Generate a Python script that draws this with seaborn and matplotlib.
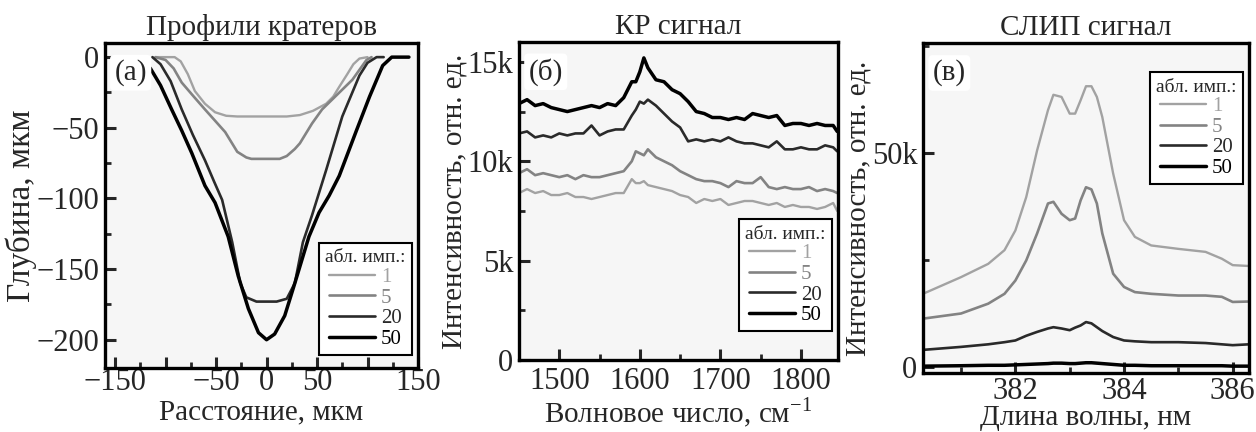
import numpy as np
import pandas as pd
import matplotlib
matplotlib.use("Agg")
import matplotlib.pyplot as plt
import seaborn as sns
from matplotlib.lines import Line2D

sns.set_theme(style="ticks")
plt.rcParams['font.family'] = ['Liberation Serif', 'DejaVu Serif']
plt.rcParams['mathtext.fontset'] = 'custom'
plt.rcParams['mathtext.rm'] = 'Liberation Serif'

pulses = ["1", "5", "20", "50"]
colors = ["#a2a2a2", "#838383", "#2a2a2a", "#000000"]
widths = [1.7, 1.9, 1.9, 2.5]

# ---------- panel (a): crater profiles ----------
a_x1 = [-110, -91, -85, -78, -71, -61, -51, -40, -29, 0, 20, 33, 46, 59, 66, 72, 80, 86, 92, 100]
a_y1 = [0, 0, -3, -12, -24, -33, -39, -41.5, -42, -42, -42, -41, -38, -33, -28, -21, -12, -5, -1, 0]
a_x5 = [-110, -100, -92, -84, -72, -61, -51, -41, -35, -29, -20, -15, 0, 13, 20, 28, 33, 45, 55, 65, 75, 85, 92, 99, 104]
a_y5 = [0, -2, -8, -18, -28, -37, -45, -53, -60, -67, -71, -72, -72, -72, -70, -65, -61, -47, -37, -30, -23, -16, -9, -2, 0]
a_x20 = [-113, -105, -95, -84, -73, -61, -52, -44, -34, -26, -20, -10, 0, 10, 20, 28, 36, 45, 59, 75, 92, 100, 109, 116]
a_y20 = [0, -5, -17, -37, -55, -73, -88, -101, -131, -160, -170, -173, -173, -173, -171, -160, -131, -112, -80, -42, -13, -4, 0, 0]
a_x50 = [-138, -127, -115, -105, -94, -84, -74, -61, -51, -38, -28, -18, -8, 0, 8, 18, 28, 42, 52, 62, 72, 89, 102, 115, 124, 141]
a_y50 = [0, 0, -8, -20, -37, -52, -68, -91, -103, -127, -155, -178, -195, -200, -196, -183, -160, -127, -110, -98, -84, -52, -28, -6, 0, 0]

a_xticks = [-150, -100, -50, 0, 50, 100, 150]
a_xticklabels = ["\u2212150", "", "\u221250", "0", "50", "", "150"]
a_yticks = [0, -50, -100, -150, -200]
a_yticklabels = ["0", "\u221250", "\u2212100", "\u2212150", "\u2212200"]

# ---------- panel (b): Raman ----------
b_x = [1450, 1460, 1470, 1480, 1490, 1500, 1510, 1520, 1530, 1540, 1550, 1560, 1570, 1580, 1590,
       1595, 1600, 1605, 1610, 1620, 1630, 1640, 1650, 1660, 1670, 1680, 1690, 1700, 1710, 1720,
       1730, 1740, 1750, 1760, 1770, 1780, 1790, 1800, 1810, 1820, 1830, 1840, 1845]
b_y50 = [12.9, 13.1, 12.8, 12.9, 12.7, 12.6, 12.5, 12.6, 12.7, 12.8, 12.7, 12.9, 12.8, 13.2, 14.0,
         14.0, 14.5, 15.2, 14.7, 14.1, 14.0, 13.6, 13.4, 13.0, 12.5, 12.4, 12.2, 12.2, 12.1, 12.2,
         12.1, 12.4, 12.3, 12.2, 12.3, 11.8, 11.9, 11.9, 11.8, 11.9, 11.8, 11.8, 11.5]
b_y20 = [11.4, 11.5, 11.2, 11.3, 11.2, 11.4, 11.3, 11.4, 11.4, 11.8, 11.3, 11.5, 11.6, 11.6, 12.3,
         12.6, 13.0, 12.9, 13.1, 12.8, 12.4, 12.0, 11.7, 11.0, 11.1, 11.0, 11.1, 11.0, 11.2, 11.0,
         10.9, 10.9, 10.8, 10.7, 11.0, 10.6, 10.6, 10.7, 10.6, 10.6, 10.8, 10.7, 10.5]
b_y5 = [9.4, 9.6, 9.3, 9.4, 9.3, 9.2, 9.3, 9.1, 9.3, 9.2, 9.2, 9.3, 9.4, 9.5, 10.0,
        10.5, 10.4, 10.3, 10.6, 10.2, 10.0, 9.8, 9.5, 9.3, 9.1, 9.0, 9.0, 8.9, 8.7, 9.0,
        8.9, 8.9, 9.2, 8.7, 8.6, 8.7, 8.6, 8.6, 8.7, 8.5, 8.6, 8.5, 8.4]
b_y1 = [8.4, 8.6, 8.4, 8.5, 8.3, 8.3, 8.4, 8.2, 8.2, 8.1, 8.2, 8.3, 8.4, 8.4, 9.1,
        8.9, 8.9, 9.0, 8.8, 8.7, 8.6, 8.5, 8.3, 8.2, 7.9, 8.1, 8.0, 8.1, 7.8, 7.9,
        8.0, 8.0, 7.9, 7.8, 7.9, 7.7, 7.8, 7.7, 7.7, 7.6, 7.7, 7.9, 7.5]
b_xticks = [1500, 1600, 1700, 1800]
b_yticks = [0, 5000, 10000, 15000]
b_yticklabels = ["0", "5k", "10k", "15k"]

# ---------- panel (c): LIBS ----------
c_x = [380.3, 381.0, 381.5, 381.8, 382.0, 382.2, 382.4, 382.6, 382.7, 382.85, 383.0, 383.1, 383.2,
       383.3, 383.4, 383.5, 383.6, 383.8, 384.0, 384.2, 384.5, 385.0, 385.5, 385.8, 386.0, 386.3]
c_y1 = [17.1, 21.0, 24.1, 27.3, 31.9, 39.7, 50.6, 60.0, 63.6, 63.1, 59.2, 59.2, 62.3,
        65.6, 65.6, 63.1, 58.4, 45.2, 34.3, 30.4, 28.4, 27.6, 26.9, 25.3, 23.8, 23.6]
c_y5 = [11.3, 12.5, 14.8, 17.1, 20.2, 24.9, 31.2, 38.2, 38.6, 35.8, 34.3, 34.7, 38.9,
        42.0, 41.5, 38.2, 31.2, 21.8, 18.7, 17.5, 17.1, 16.7, 16.7, 16.4, 15.2, 15.3]
c_y20 = [4.0, 4.7, 5.3, 5.8, 6.2, 7.3, 8.2, 9.0, 9.3, 9.0, 8.6, 9.2, 9.7,
         10.5, 10.2, 9.3, 8.4, 7.0, 6.2, 6.0, 5.8, 5.8, 5.6, 5.3, 5.1, 5.3]
c_y50 = [0.2, 0.3, 0.4, 0.4, 0.5, 0.6, 0.7, 0.8, 0.9, 0.9, 0.8, 0.8, 0.9,
         1.0, 1.0, 0.9, 0.8, 0.6, 0.4, 0.4, 0.3, 0.3, 0.3, 0.3, 0.2, 0.2]
c_xticks = [382, 384, 386]
c_yticks = [0, 50000]
c_yticklabels = ["0", "50k"]


def long_df(xs, ys, scale=1.0):
    frames = []
    for p, x, y in zip(pulses, xs, ys):
        frames.append(pd.DataFrame({"x": x, "y": np.asarray(y, float) * scale, "p": p}))
    return pd.concat(frames, ignore_index=True)


dfa = long_df([a_x1, a_x5, a_x20, a_x50], [a_y1, a_y5, a_y20, a_y50])
dfb = long_df([b_x] * 4, [b_y1, b_y5, b_y20, b_y50], 1000)
dfc = long_df([c_x] * 4, [c_y1, c_y5, c_y20, c_y50], 1000)

fig = plt.figure(figsize=(12.56, 4.32), dpi=100)
fig.patch.set_facecolor("white")
axa = fig.add_axes([105/1256, (432-368)/432, 313/1256, 325/432])
axb = fig.add_axes([519/1256, (432-360)/432, 319/1256, 318/432])
axc = fig.add_axes([923/1256, (432-373)/432, 326/1256, 330/432])

pal = dict(zip(pulses, colors))
TICK = 22
LAB = 21
TIT = 21
for ax, df in [(axa, dfa), (axb, dfb), (axc, dfc)]:
    ax.set_facecolor("#f6f6f6")
    sns.lineplot(data=df, x="x", y="y", hue="p", palette=pal, sort=False,
                 estimator=None, ax=ax, legend=False)
    for line, w in zip(ax.get_lines(), widths):
        line.set_linewidth(w)
    for s in ax.spines.values():
        s.set_linewidth(2.4)
        s.set_color("black")
    ax.tick_params(direction="in", which="major", length=8, width=2.2,
                   labelsize=TICK, pad=4, top=False, right=False)
    ax.tick_params(direction="in", which="minor", length=4, width=2)
    ax.minorticks_on()

# panel a
axa.set_xlim(-160, 150)
axa.set_ylim(-220, 10)
axa.set_xticks(a_xticks)
axa.set_xticklabels(a_xticklabels)
axa.set_yticks(a_yticks)
axa.set_yticklabels(a_yticklabels)
axa.xaxis.set_minor_locator(matplotlib.ticker.MultipleLocator(25))
axa.yaxis.set_minor_locator(matplotlib.ticker.MultipleLocator(25))
axa.tick_params(axis="x", which="major", pad=0)
axa.set_xlabel("Расстояние, мкм", fontsize=LAB, labelpad=2)
axa.set_ylabel("Глубина, мкм", fontsize=24, labelpad=0)
axa.set_title("Профили кратеров", fontsize=TIT, pad=6)

# panel b
axb.set_xlim(1450, 1846)
axb.set_ylim(0, 16000)
axb.set_xticks(b_xticks)
axb.set_yticks(b_yticks)
axb.set_yticklabels(b_yticklabels)
axb.xaxis.set_minor_locator(matplotlib.ticker.MultipleLocator(50))
axb.yaxis.set_minor_locator(matplotlib.ticker.MultipleLocator(2500))
axb.tick_params(axis="x", which="major", pad=5)
axb.set_xlabel("Волновое число, см$^{\\mathregular{−1}}$", fontsize=LAB, labelpad=0)
axb.set_ylabel("Интенсивность, отн. ед.", fontsize=LAB, labelpad=0)
axb.set_title("КР сигнал", fontsize=TIT, pad=6)

# panel c
axc.set_xlim(380.3, 386.3)
axc.set_ylim(-1400, 75700)
axc.set_xticks(c_xticks)
axc.set_yticks(c_yticks)
axc.set_yticklabels(c_yticklabels)
axc.xaxis.set_minor_locator(matplotlib.ticker.MultipleLocator(1))
axc.yaxis.set_minor_locator(matplotlib.ticker.MultipleLocator(25000))
axc.tick_params(axis="x", which="major", pad=3)
axc.set_xlabel("Длина волны, нм", fontsize=LAB, labelpad=-1)
axc.set_ylabel("Интенсивность, отн. ед.", fontsize=LAB, labelpad=0)
axc.set_title("СЛИП сигнал", fontsize=TIT, pad=6)

for ax, lab, loc, anchor in [(axa, "(a)", "lower right", (1.0, 0.02)),
                             (axb, "(б)", "lower right", (1.0, 0.07)),
                             (axc, "(в)", "upper right", (1.0, 0.93))]:
    ax.text(0.03, 0.95, lab, transform=ax.transAxes, fontsize=21, va="top", ha="left",
            bbox=dict(boxstyle="round,pad=0.15", fc="white", ec="none"))
    handles = [Line2D([], [], color=c, lw=w) for c, w in zip(colors, widths)]
    leg = ax.legend(handles, pulses, title="абл. имп.:", loc=loc, bbox_to_anchor=anchor,
                    fontsize=15, title_fontsize=14, frameon=True, fancybox=False,
                    handlelength=2.2, labelspacing=0.05, borderpad=0.3, handletextpad=0.3,
                    borderaxespad=0.3)
    leg.get_frame().set_edgecolor("black")
    leg.get_frame().set_linewidth(1.5)
    leg.get_frame().set_facecolor("white")
    leg.get_frame().set_alpha(1)
    for t, c in zip(leg.get_texts(), colors):
        t.set_color(c)

fig.savefig("out.png", dpi=100)
